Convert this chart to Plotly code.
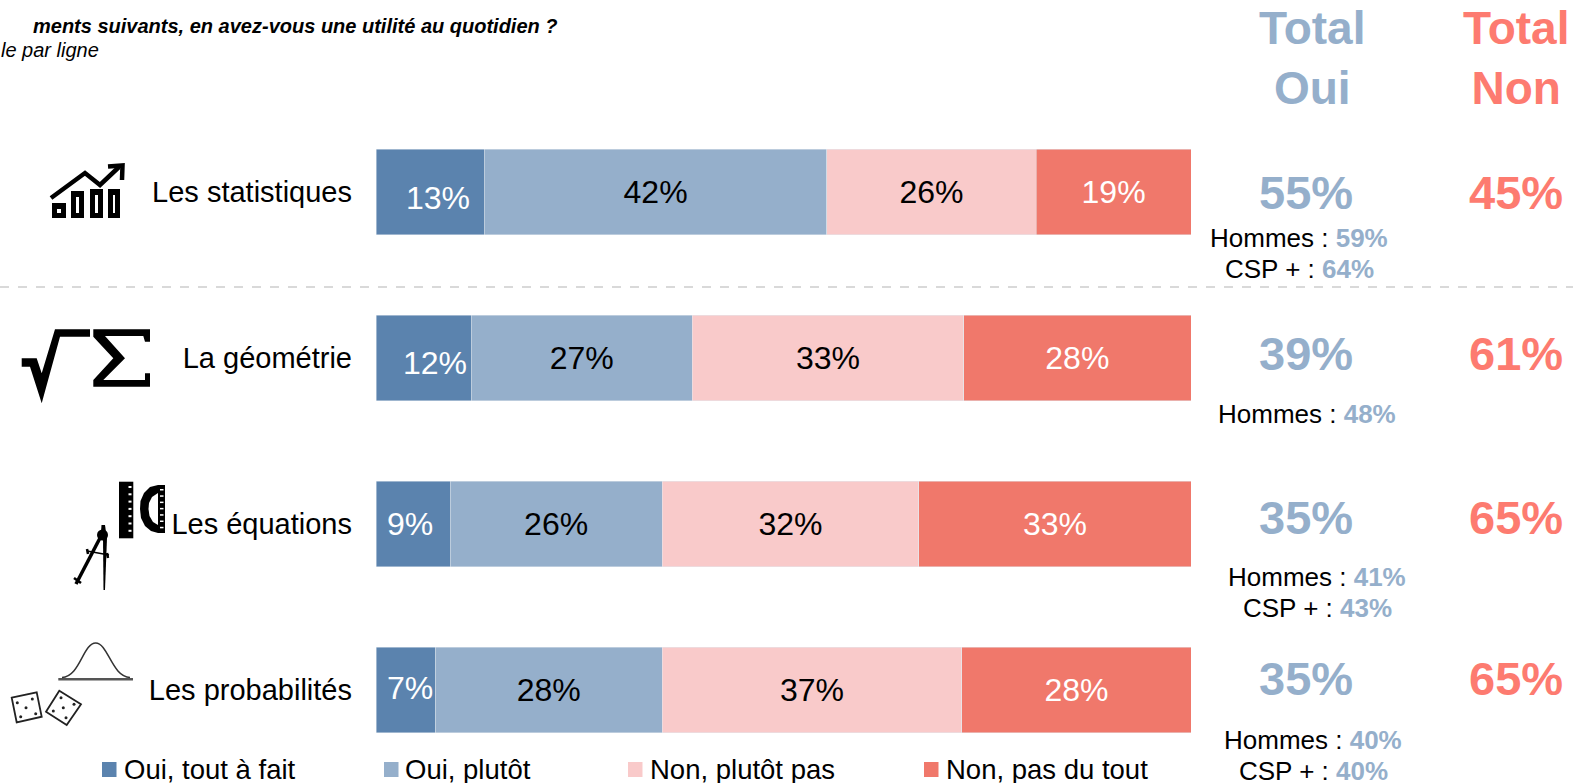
import plotly.graph_objects as go

categories = ["Les statistiques", "La géométrie", "Les équations", "Les probabilités"]
series_names = ["Oui, tout à fait", "Oui, plutôt", "Non, plutôt pas", "Non, pas du tout"]
oui_tout_a_fait = [13.3, 11.7, 9.1, 7.3]
oui_plutot = [42.0, 27.1, 26.0, 27.8]
non_plutot_pas = [25.7, 33.3, 31.5, 36.8]
non_pas_du_tout = [19.0, 27.9, 33.4, 28.1]
total_oui = [55, 39, 35, 35]
total_non = [45, 61, 65, 65]
hommes = [59, 48, 41, 40]
csp_plus = [64, None, 43, 40]

BLUE_DARK = "#5b83ae"
BLUE_LIGHT = "#95afcb"
PINK_LIGHT = "#f9caca"
RED = "#f0786b"
RED_TOTAL = "#fd7b70"
FONT = "Liberation Sans"

WIDTH, HEIGHT = 1573, 783
M_L, M_R, M_T, M_B = 376, 382, 109, 10
PLOT_W = WIDTH - M_L - M_R
PLOT_H = HEIGHT - M_T - M_B


# the page is laid out in screen pixels, shapes and notes want paper fractions
def px_x(x):
    return (x - M_L) / PLOT_W


def px_y(y):
    return 1 - (y - M_T) / PLOT_H


def note(x, y, text, size, color="black", anchor="center"):
    fig.add_annotation(
        text=text, xref="paper", yref="paper", x=px_x(x), y=px_y(y),
        xanchor=anchor, yanchor="middle", showarrow=False,
        font={"family": FONT, "size": size, "color": color},
    )


def to_path(points, close=True):
    parts = [f"{px_x(x):.5f},{px_y(y):.5f}" for x, y in points]
    return "M" + " L".join(parts) + (" Z" if close else "")


def poly(points, fill="black"):
    fig.add_shape(type="path", path=to_path(points), xref="paper", yref="paper",
                  fillcolor=fill, line={"width": 0}, layer="above")


def line(points, width, color="black", close=False):
    fig.add_shape(type="path", path=to_path(points, close), xref="paper", yref="paper",
                  line={"width": width, "color": color}, layer="above")


def rect(x0, y0, x1, y1, fill="black"):
    poly([(x0, y0), (x1, y0), (x1, y1), (x0, y1)], fill)


def dot(x, y, r, fill="black"):
    fig.add_shape(type="circle", xref="paper", yref="paper",
                  x0=px_x(x - r), x1=px_x(x + r), y0=px_y(y + r), y1=px_y(y - r),
                  fillcolor=fill, line={"width": 0}, layer="above")


def draw_chart_icon():
    line([(51, 198), (85, 173), (100, 185), (119, 167)], 4.5)
    line([(108, 166.5), (122.5, 165.5), (122, 180)], 4.5)
    for x0, x1, top in [(52, 66, 203), (71, 84, 191), (90, 103, 189), (108, 120, 189)]:
        rect(x0, top, x1, 218)
        rect(x0 + 5, top + 6, x1 - 5, 213, "white")


def draw_math_icon():
    poly([(21.7, 358.3), (36.7, 358.3), (41.7, 373.3), (55, 329.3), (90, 329.3), (90, 336.7),
          (60, 336.7), (41.7, 403.3), (30, 366.7), (21.7, 366.7)])
    poly([(93.3, 329.3), (150, 329.3), (150, 341.7), (145, 341.7), (143.3, 336), (105, 336),
          (125, 358.3), (103.3, 380), (145, 380), (145, 373.3), (150, 373.3), (150, 386.7),
          (93.3, 386.7), (93.3, 380), (113.3, 358.3), (93.3, 336.7)])


def draw_tools_icon():
    rect(119, 481.7, 133.3, 538.3)
    for i in range(7):
        rect(128.5, 486 + i * 7.3, 131.5, 488 + i * 7.3, "white")
    poly([(165, 485), (158, 485), (150, 487), (144, 493), (140.5, 501), (140, 509), (141, 518),
          (145, 526), (151, 531), (158, 533), (165, 533)])
    poly([(158, 493), (152, 497), (149, 503), (148.5, 509), (149.5, 516), (153, 522), (158, 525)], "white")
    for i in range(7):
        rect(160, 489 + i * 6.3, 163.5, 490.5 + i * 6.3, "white")
    dot(102.5, 535, 5.5)
    poly([(101.5, 525), (105, 525), (106, 532), (101, 532)])
    line([(100, 538), (76, 584)], 3.5)
    poly([(103, 538), (107, 538), (105, 590), (103.5, 590)])
    line([(87, 551), (109, 555)], 1.5)
    line([(87, 549), (88, 554)], 2.5)
    line([(107, 553), (108, 558)], 2.5)
    line([(74, 578), (81, 583)], 2.5)


def draw_probability_icon():
    line([(58.3, 679.3), (133, 679.3)], 2.5, "#555555")
    fig.add_shape(
        type="path", xref="paper", yref="paper", layer="above",
        path=(f"M{px_x(62):.5f},{px_y(677.5):.5f} "
              f"C{px_x(80):.5f},{px_y(677):.5f} {px_x(83):.5f},{px_y(643):.5f} {px_x(95.7):.5f},{px_y(643):.5f} "
              f"C{px_x(108):.5f},{px_y(643):.5f} {px_x(112):.5f},{px_y(677):.5f} {px_x(130):.5f},{px_y(677.5):.5f}"),
        line={"width": 1.5, "color": "#333333"},
    )
    line([(11.7, 697.7), (36.7, 692.3), (41.7, 716.7), (16.7, 722.3)], 1.8, "#222222", close=True)
    line([(59.3, 690.7), (81, 704.3), (66.7, 725), (46, 711.7)], 1.8, "#222222", close=True)
    for x, y in [(17.3, 702.7), (32.3, 699), (26, 707.7), (20.7, 716.7), (35.7, 713.7),
                 (61, 697.7), (53.3, 711), (63.3, 707.7), (74, 704.3), (66, 717.7)]:
        dot(x, y, 1.5, "#222222")


series_values = [oui_tout_a_fait, oui_plutot, non_plutot_pas, non_pas_du_tout]
series_colors = [BLUE_DARK, BLUE_LIGHT, PINK_LIGHT, RED]
text_colors = ["white", "black", "black", "white"]

fig = go.Figure()

for i, (name, values) in enumerate(zip(series_names, series_values)):
    # first series labels sit off-centre in the original, they are added as notes below
    labels = [f"{v:.0f}%" for v in values] if i > 0 else None
    fig.add_trace(go.Bar(
        y=categories,
        x=values,
        orientation="h",
        name=name,
        marker={"color": series_colors[i], "line": {"color": "#e4e9f0", "width": 0.5}},
        text=labels,
        textposition="inside" if i > 0 else "none",
        insidetextanchor="middle",
        textangle=0,
        constraintext="none",
        textfont={"family": FONT, "size": 32, "color": text_colors[i]},
        showlegend=False,
    ))

fig.update_layout(
    width=WIDTH,
    height=HEIGHT,
    barmode="stack",
    bargap=0.482,
    paper_bgcolor="white",
    plot_bgcolor="white",
    margin={"l": M_L, "r": M_R, "t": M_T, "b": M_B, "pad": 0},
    showlegend=False,
    font={"family": FONT},
    xaxis={"range": [0, 100], "visible": False, "fixedrange": True},
    yaxis={
        "autorange": "reversed",
        "showgrid": False,
        "zeroline": False,
        "showline": False,
        "ticks": "",
        "ticklabelstandoff": 23,
        "tickfont": {"family": FONT, "size": 29, "color": "black"},
        "fixedrange": True,
    },
)

first_xshift = [8, 11, -3, 4]
first_yshift = [-6, -5, 0, 2]
for cat, v, dx, dy in zip(categories, oui_tout_a_fait, first_xshift, first_yshift):
    fig.add_annotation(
        text=f"{v:.0f}%", x=v / 2, y=cat, xref="x", yref="y", showarrow=False,
        xshift=dx, yshift=dy,
        font={"family": FONT, "size": 32, "color": "white"},
    )

# question, cut by the left edge of the page in the original
note(560, 26, "<b><i>ments suivants, en avez-vous une utilité au quotidien ?</i></b>", 20, anchor="right")
note(101, 50, "<i>le par ligne</i>", 20, anchor="right")

note(1312, 58, "<b>Total<br>Oui</b>", 46, BLUE_LIGHT)
note(1516, 58, "<b>Total<br>Non</b>", 46, RED_TOTAL)

total_y = [192, 354, 517, 678]
for y, oui, non in zip(total_y, total_oui, total_non):
    note(1306, y, f"<b>{oui}%</b>", 47, BLUE_LIGHT)
    note(1516, y, f"<b>{non}%</b>", 47, RED_TOTAL)

sub_x = [1299, 1307, 1317, 1313]
hommes_y = [238, 414, 577, 740]
csp_y = [269, None, 608, 771]
for x, h, hy, c, cy in zip(sub_x, hommes, hommes_y, csp_plus, csp_y):
    note(x, hy, f'Hommes : <b><span style="color:{BLUE_LIGHT}">{h}%</span></b>', 26)
    if c is not None:
        note(x, cy, f'CSP + : <b><span style="color:{BLUE_LIGHT}">{c}%</span></b>', 26)

fig.add_shape(type="line", xref="paper", yref="paper", x0=px_x(0), x1=px_x(WIDTH),
              y0=px_y(287), y1=px_y(287), line={"color": "#d9d9d9", "width": 2, "dash": "dash"})

# legend is laid out by hand, the gaps between entries are not even
swatch_x = [102, 384, 628, 924]
label_x = [122, 403, 648, 943.5]
for name, color, sx, lx in zip(series_names, series_colors, swatch_x, label_x):
    rect(sx, 762, sx + 14.5, 777, color)
    note(lx, 769, name, 27.5, anchor="left")

draw_chart_icon()
draw_math_icon()
draw_tools_icon()
draw_probability_icon()

fig.write_html("out.html", post_script="document.body.style.margin='0';document.body.style.overflow='hidden';",
               config={"displayModeBar": False})
